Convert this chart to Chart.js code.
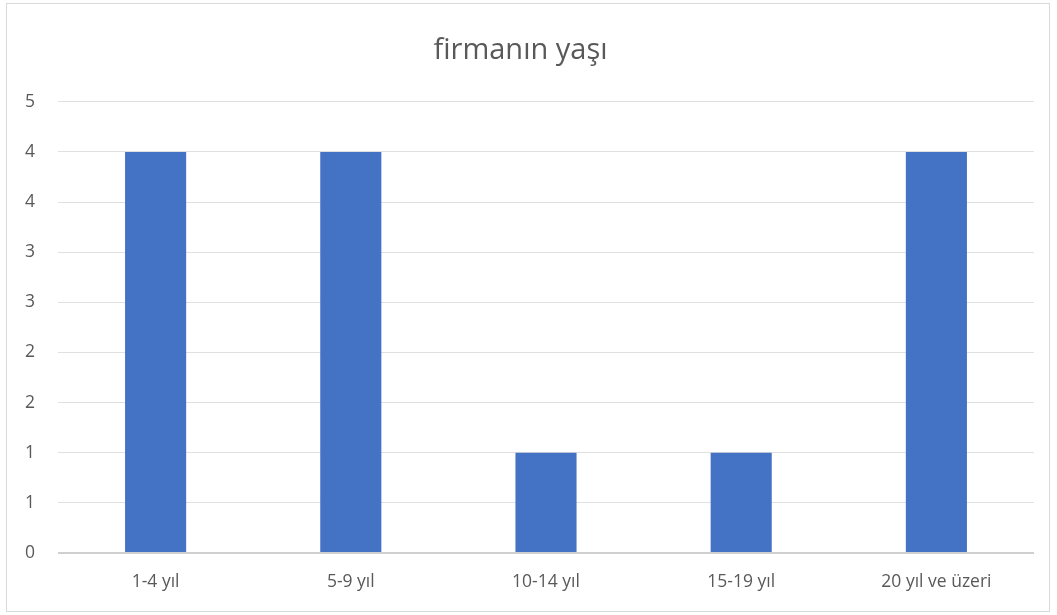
<!DOCTYPE html>
<html>
<head>
<meta charset="utf-8">
<script src="https://cdn.jsdelivr.net/npm/chart.js@4"></script>
<style>
  body { margin: 0; background: #fff; }
  #box { position: absolute; left: 6px; top: 3px; width: 1042px; height: 607px; border: 1px solid #d9d9d9; }
</style>
</head>
<body>
<div id="box"><canvas id="diagram" width="1042" height="607"></canvas></div>
<script>
// data
const categories = ['1-4 yıl', '5-9 yıl', '10-14 yıl', '15-19 yıl', '20 yıl ve üzeri'];
const values = [4, 4, 1, 1, 4];
const tickLabels = ['0', '1', '1', '2', '2', '3', '3', '4', '4', '5'];

const diagram = document.getElementById('diagram').getContext('2d');
const myChart = new Chart(diagram, {
    type: 'bar',
    data: {
        labels: categories,
        datasets: [{
            label: 'firmanın yaşı',
            data: values,
            backgroundColor: '#4472c4',
            barPercentage: 0.313,
            categoryPercentage: 1
        }]
    },
    options: {
        responsive: false,
        animation: false,
        layout: { padding: { left: 0, right: 15, top: 0, bottom: 0 } },
        plugins: {
            legend: { display: false },
            tooltip: { enabled: false },
            title: {
                display: true,
                text: 'firmanın yaşı',
                color: '#595959',
                font: { family: 'Open Sans', size: 29, weight: 'normal' },
                padding: { top: 29, bottom: 34 }
            }
        },
        scales: {
            x: {
                grid: { display: false, drawTicks: false },
                border: { display: false },
                ticks: { color: '#595959', font: { family: 'Open Sans', size: 17.5 }, padding: 19 },
                afterFit: s => { s.height = 58; }
            },
            y: {
                min: 0,
                max: 4.5,
                grid: {
                    drawTicks: false,
                    color: c => c.index === 0 ? '#d0d0d0' : '#e0e0e0',
                    lineWidth: c => c.index === 0 ? 2 : 1
                },
                border: { display: false },
                ticks: {
                    stepSize: 0.5,
                    color: '#595959',
                    font: { family: 'Open Sans', size: 17.5 },
                    padding: 23,
                    callback: (v, i) => tickLabels[i]
                },
                afterFit: s => { s.width = 51; }
            }
        }
    }
});
</script>
</body>
</html>
